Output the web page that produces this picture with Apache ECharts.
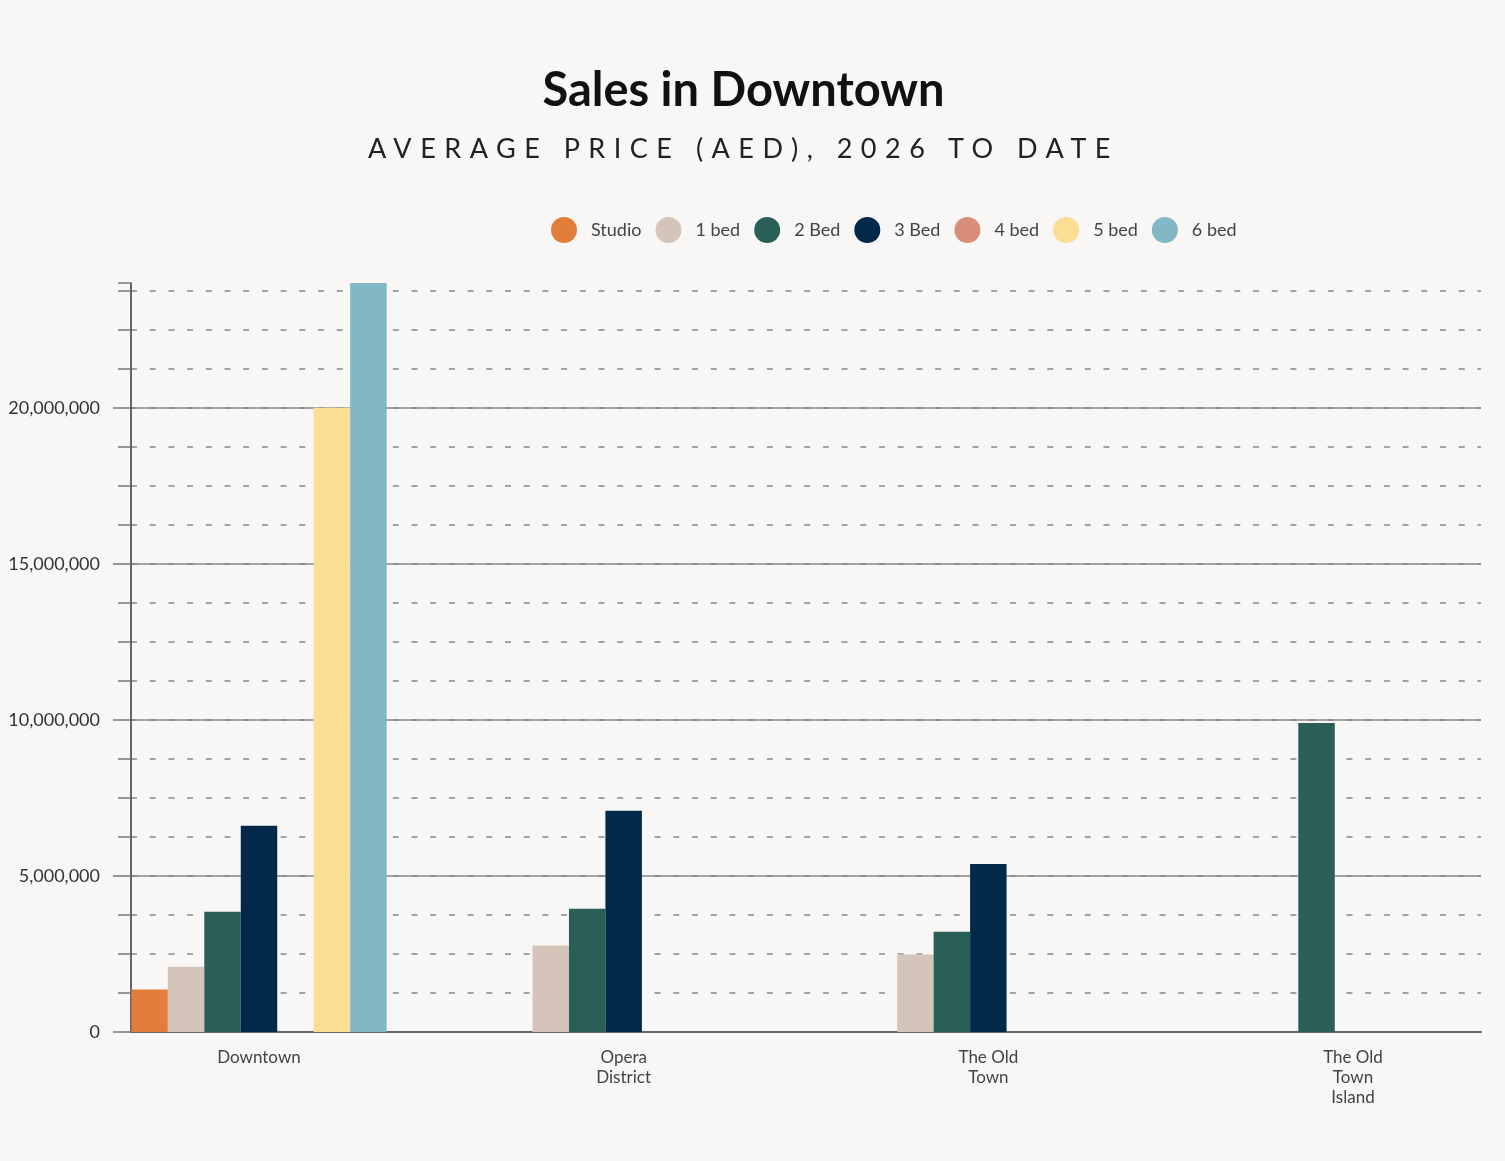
<!DOCTYPE html>
<html>
<head>
<meta charset="utf-8">
<style>
    body { margin: 0; background: #F8F7F5; }
    #chart { position: absolute; left: 0; top: 0; width: 1505px; height: 1161px; }
    .head { position: absolute; left: 0; width: 1487px; text-align: center; color: #111; font-family: Lato, sans-serif; z-index: 2; }
    #title { top: 58px; font-size: 47px; font-weight: 700; line-height: 60px; }
    #subtitle { top: 130px; font-size: 27px; font-weight: 400; letter-spacing: 8.5px; line-height: 36px; color: #222; }
</style>
</head>
<body>
<div id="title" class="head">Sales in Downtown</div>
<div id="subtitle" class="head">AVERAGE PRICE (AED), 2026 TO DATE</div>
<div id="chart"></div>

<script src="https://cdn.jsdelivr.net/npm/echarts@6/dist/echarts.min.js"></script>
<script type="text/javascript">
    // data
    const categories = ['Downtown', 'Opera\nDistrict', 'The Old\nTown', 'The Old\nTown\nIsland'];
    const seriesNames = ['Studio', '1 bed', '2 Bed', '3 Bed', '4 bed', '5 bed', '6 bed'];
    const seriesColors = ['#E27D3A', '#D5C4B9', '#2A5F58', '#03294A', '#D88E78', '#FBDD93', '#82B7C4'];

    const studio = [1360000, null, null, null];
    const bed1 = [2090000, 2770000, 2480000, null];
    const bed2 = [3850000, 3950000, 3210000, 9900000];
    const bed3 = [6610000, 7090000, 5380000, null];
    const bed4 = [null, null, null, null];
    const bed5 = [20000000, null, null, null];
    const bed6 = [24000000, null, null, null];
    const seriesValues = [studio, bed1, bed2, bed3, bed4, bed5, bed6];

    const yMax = 24000000;
    const majorStep = 5000000;
    const minorStep = 1250000;

    const font = 'Lato, sans-serif';
    const chart = echarts.init(document.getElementById('chart'));

    function withCommas(v) {
        return String(v).replace(/\B(?=(\d{3})+(?!\d))/g, ',');
    }

    chart.setOption({
        backgroundColor: '#F8F7F5',
        textStyle: { fontFamily: font },
        legend: {
            data: seriesNames,
            left: 551,
            top: 217,
            padding: 0,
            icon: 'circle',
            itemWidth: 26,
            itemHeight: 26,
            itemGap: 14,
            textStyle: { fontSize: 18, color: '#444', fontFamily: font, padding: [0, 0, 0, 9] }
        },
        grid: [
            { left: 131, right: 24, top: 283, bottom: 129 },
            { left: 259, right: 152, top: 283, bottom: 129 }
        ],
        xAxis: [
            {
                gridIndex: 0, type: 'value', min: 0, max: 1,
                axisLine: { show: true, onZero: false, lineStyle: { color: '#666', width: 2 } },
                axisTick: { show: false }, axisLabel: { show: false }, splitLine: { show: false }
            },
            {
                gridIndex: 1, type: 'category', data: categories, boundaryGap: false,
                axisLine: { show: false }, axisTick: { show: false },
                axisLabel: { margin: 16, color: '#444', fontSize: 17, lineHeight: 20, fontFamily: font }
            }
        ],
        yAxis: [
            {
                gridIndex: 0, type: 'value', position: 'left', min: 0, max: yMax, interval: minorStep,
                axisLine: { show: false },
                axisTick: { show: true, length: 13, lineStyle: { color: '#777', width: 1.5 } },
                axisLabel: { show: false },
                splitLine: { show: true, showMaxLine: false, lineStyle: { type: [6, 12.7], color: '#888', width: 1.5 } }
            },
            {
                gridIndex: 0, type: 'value', position: 'left', min: 0, max: yMax, interval: majorStep,
                axisLine: { show: true, lineStyle: { color: '#333', width: 1.5 } },
                axisTick: { show: true, length: 18, lineStyle: { color: '#777', width: 1.5 } },
                axisLabel: { showMaxLabel: false, margin: 31, color: '#333', fontSize: 18, fontFamily: font, formatter: withCommas },
                splitLine: { show: true, showMaxLine: false, lineStyle: { color: '#888', width: 1.5 } }
            },
            { gridIndex: 1, type: 'value', min: 0, max: yMax, show: false }
        ],
        series: seriesNames.map((name, i) => ({
            name: name,
            type: 'bar',
            xAxisIndex: 1,
            yAxisIndex: 2,
            barGap: 0,
            barCategoryGap: '30%',
            clip: false,
            itemStyle: { color: seriesColors[i] },
            data: seriesValues[i]
        }))
    });
</script>
</body>
</html>
